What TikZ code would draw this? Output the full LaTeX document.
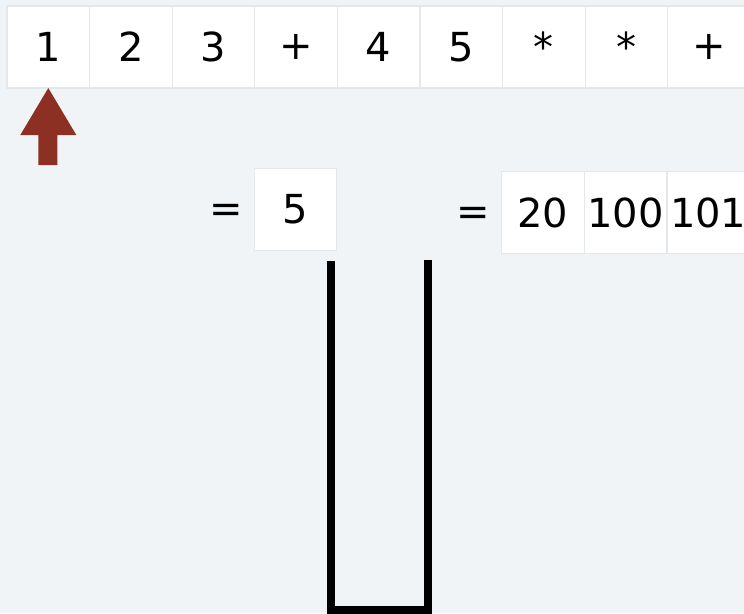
\documentclass[tikz,border=0pt]{standalone}
\usepackage{fontspec}
\setmainfont{DejaVu Sans}
\usepackage{xcolor}
\usetikzlibrary{positioning}
\definecolor{bggray}{rgb}{0.945,0.957,0.969}
\definecolor{cellline}{rgb}{0.90,0.91,0.92}
\definecolor{ptrred}{rgb}{0.55,0.19,0.14}

\begin{document}
\begin{tikzpicture}[x=1pt,y=-1pt,font=\fontsize{40}{44}\selectfont,
  cell/.style={draw=cellline,line width=1.2pt,fill=white,minimum width=82.6pt,
               minimum height=82pt,inner sep=0pt,outer sep=0pt,anchor=center}]
\useasboundingbox (0,0) rectangle (744,613);
\clip (0,0) rectangle (744,613);
\fill[bggray] (0,0) rectangle (744,613);
% input sequence
\node[cell] (c1) at (48.3,47) {1};
\foreach \t [count=\i from 2, evaluate=\i as \p using int(\i-1)] in {2,3,+,4,5,*,*,+}
  \node[cell,right=0pt of c\p] (c\i) {\t};
% pointer under the current token
\fill[ptrred] (c1.south) -- ++(-28,47) -- ++(18,0) -- ++(0,30)
  -- ++(19,0) -- ++(0,-30) -- ++(19,0) -- cycle;
% values
\node[cell] (v1) at (295.5,209.5) {5};
\node[left=8pt of v1,yshift=-4pt] (eq1) {=};
\node[cell] (w1) at (543,212.5) {20};
\node[cell,right=0pt of w1] (w2) {100};
\node[cell,right=0pt of w2] (w3) {101};
\node[left=8pt of w1,yshift=-4pt] (eq2) {=};
% stack
\draw[line width=8pt,line join=miter] (331,260.5) -- (331,609.5)
  -- (427.5,609.5) -- (427.5,260);
\end{tikzpicture}
\end{document}
